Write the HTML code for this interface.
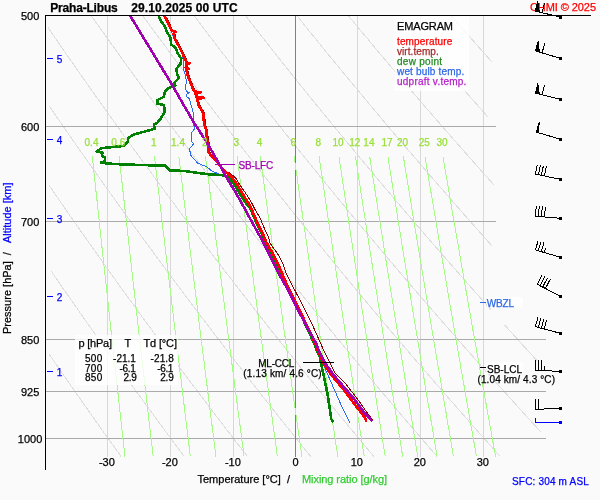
<!DOCTYPE html><html><head><meta charset="utf-8"><style>html,body{margin:0;padding:0;background:#fafafa}svg{display:block;will-change:transform}text{font-family:"Liberation Sans",sans-serif;paint-order:stroke;stroke-width:0.25px}</style></head><body>
<svg width="600" height="500" viewBox="0 0 600 500">
<rect width="600" height="500" fill="#fafafa"/>
<path d="M48.7 353.5L53.5 360.5M53.5 360.5L58.3 367.4M58.3 367.4L63.0 374.2M63.0 374.2L67.6 380.9M67.6 380.9L72.3 387.6M72.3 387.6L76.9 394.2M76.9 394.2L81.5 400.7M81.5 400.7L86.0 407.2M86.0 407.2L90.5 413.6M90.5 413.6L95.0 419.9M95.0 419.9L99.4 426.2M99.4 426.2L103.8 432.4M103.8 432.4L108.2 438.5M108.2 438.5L112.5 444.6M112.5 444.6L116.9 450.6M116.9 450.6L121.1 456.5M51.1 271.0L56.6 279.0M56.6 279.0L62.0 286.9M62.0 286.9L67.4 294.6M67.4 294.6L72.8 302.3M72.8 302.3L78.1 309.9M78.1 309.9L83.3 317.4M83.3 317.4L88.5 324.8M88.5 324.8L93.7 332.1M93.7 332.1L98.8 339.3M98.8 339.3L103.9 346.5M103.9 346.5L108.9 353.5M108.9 353.5L113.9 360.5M113.9 360.5L118.9 367.4M118.9 367.4L123.8 374.2M123.8 374.2L128.6 380.9M128.6 380.9L133.5 387.6M133.5 387.6L138.3 394.2M138.3 394.2L143.0 400.7M143.0 400.7L147.8 407.2M147.8 407.2L152.5 413.6M152.5 413.6L157.1 419.9M157.1 419.9L161.7 426.2M161.7 426.2L166.3 432.4M166.3 432.4L170.9 438.5M170.9 438.5L175.4 444.6M175.4 444.6L179.9 450.6M179.9 450.6L184.3 456.5M48.8 184.9L55.1 194.1M55.1 194.1L61.3 203.1M61.3 203.1L67.5 212.1M67.5 212.1L73.6 220.8M73.6 220.8L79.7 229.5M79.7 229.5L85.7 238.0M85.7 238.0L91.6 246.4M91.6 246.4L97.5 254.7M97.5 254.7L103.3 262.9M103.3 262.9L109.0 271.0M109.0 271.0L114.8 279.0M114.8 279.0L120.4 286.9M120.4 286.9L126.0 294.6M126.0 294.6L131.6 302.3M131.6 302.3L137.1 309.9M137.1 309.9L142.5 317.4M142.5 317.4L148.0 324.8M148.0 324.8L153.3 332.1M153.3 332.1L158.6 339.3M158.6 339.3L163.9 346.5M163.9 346.5L169.1 353.5M169.1 353.5L174.3 360.5M174.3 360.5L179.5 367.4M179.5 367.4L184.6 374.2M184.6 374.2L189.6 380.9M189.6 380.9L194.7 387.6M194.7 387.6L199.7 394.2M199.7 394.2L204.6 400.7M204.6 400.7L209.5 407.2M209.5 407.2L214.4 413.6M214.4 413.6L219.2 419.9M219.2 419.9L224.0 426.2M224.0 426.2L228.8 432.4M228.8 432.4L233.5 438.5M233.5 438.5L238.2 444.6M238.2 444.6L242.9 450.6M242.9 450.6L247.5 456.5M49.3 106.1L56.4 116.5M56.4 116.5L63.5 126.8M63.5 126.8L70.5 136.9M70.5 136.9L77.5 146.8M77.5 146.8L84.3 156.5M84.3 156.5L91.1 166.1M91.1 166.1L97.8 175.6M97.8 175.6L104.4 184.9M104.4 184.9L111.0 194.1M111.0 194.1L117.4 203.1M117.4 203.1L123.8 212.1M123.8 212.1L130.2 220.8M130.2 220.8L136.5 229.5M136.5 229.5L142.7 238.0M142.7 238.0L148.9 246.4M148.9 246.4L155.0 254.7M155.0 254.7L161.0 262.9M161.0 262.9L167.0 271.0M167.0 271.0L172.9 279.0M172.9 279.0L178.8 286.9M178.8 286.9L184.6 294.6M184.6 294.6L190.4 302.3M190.4 302.3L196.1 309.9M196.1 309.9L201.8 317.4M201.8 317.4L207.4 324.8M207.4 324.8L212.9 332.1M212.9 332.1L218.5 339.3M218.5 339.3L223.9 346.5M223.9 346.5L229.4 353.5M229.4 353.5L234.7 360.5M234.7 360.5L240.1 367.4M240.1 367.4L245.4 374.2M245.4 374.2L250.6 380.9M250.6 380.9L255.9 387.6M255.9 387.6L261.0 394.2M261.0 394.2L266.2 400.7M266.2 400.7L271.3 407.2M271.3 407.2L276.3 413.6M276.3 413.6L281.4 419.9M281.4 419.9L286.3 426.2M286.3 426.2L291.3 432.4M291.3 432.4L296.2 438.5M296.2 438.5L301.1 444.6M301.1 444.6L305.9 450.6M305.9 450.6L310.7 456.5M48.0 27.6L56.2 39.4M56.2 39.4L64.2 51.1M64.2 51.1L72.2 62.5M72.2 62.5L80.0 73.7M80.0 73.7L87.7 84.7M87.7 84.7L95.4 95.5M95.4 95.5L102.9 106.1M102.9 106.1L110.3 116.5M110.3 116.5L117.7 126.8M117.7 126.8L124.9 136.9M124.9 136.9L132.1 146.8M132.1 146.8L139.2 156.5M139.2 156.5L146.2 166.1M146.2 166.1L153.2 175.6M153.2 175.6L160.0 184.9M160.0 184.9L166.8 194.1M166.8 194.1L173.6 203.1M173.6 203.1L180.2 212.1M180.2 212.1L186.8 220.8M186.8 220.8L193.3 229.5M193.3 229.5L199.7 238.0M199.7 238.0L206.1 246.4M206.1 246.4L212.5 254.7M212.5 254.7L218.7 262.9M218.7 262.9L224.9 271.0M224.9 271.0L231.1 279.0M231.1 279.0L237.2 286.9M237.2 286.9L243.2 294.6M243.2 294.6L249.2 302.3M249.2 302.3L255.1 309.9M255.1 309.9L261.0 317.4M261.0 317.4L266.8 324.8M266.8 324.8L272.6 332.1M272.6 332.1L278.3 339.3M278.3 339.3L284.0 346.5M284.0 346.5L289.6 353.5M289.6 353.5L295.2 360.5M295.2 360.5L300.7 367.4M300.7 367.4L306.2 374.2M306.2 374.2L311.6 380.9M311.6 380.9L317.1 387.6M317.1 387.6L322.4 394.2M322.4 394.2L327.7 400.7M327.7 400.7L333.0 407.2M333.0 407.2L338.3 413.6M338.3 413.6L343.5 419.9M343.5 419.9L348.6 426.2M348.6 426.2L353.8 432.4M353.8 432.4L358.9 438.5M358.9 438.5L363.9 444.6M363.9 444.6L368.9 450.6M368.9 450.6L373.9 456.5M91.2 15.5L99.7 27.6M99.7 27.6L108.2 39.4M108.2 39.4L116.5 51.1M116.5 51.1L124.7 62.5M124.7 62.5L132.8 73.7M132.8 73.7L140.8 84.7M140.8 84.7L148.7 95.5M148.7 95.5L156.5 106.1M156.5 106.1L164.2 116.5M164.2 116.5L171.8 126.8M171.8 126.8L179.3 136.9M179.3 136.9L186.8 146.8M186.8 146.8L194.1 156.5M194.1 156.5L201.4 166.1M201.4 166.1L208.6 175.6M208.6 175.6L215.7 184.9M215.7 184.9L222.7 194.1M222.7 194.1L229.7 203.1M229.7 203.1L236.6 212.1M236.6 212.1L243.4 220.8M243.4 220.8L250.1 229.5M250.1 229.5L256.8 238.0M256.8 238.0L263.4 246.4M263.4 246.4L270.0 254.7M270.0 254.7L276.4 262.9M276.4 262.9L282.9 271.0M282.9 271.0L289.2 279.0M289.2 279.0L295.5 286.9M295.5 286.9L301.8 294.6M301.8 294.6L308.0 302.3M308.0 302.3L314.1 309.9M314.1 309.9L320.2 317.4M320.2 317.4L326.2 324.8M326.2 324.8L332.2 332.1M332.2 332.1L338.1 339.3M338.1 339.3L344.0 346.5M344.0 346.5L349.8 353.5M349.8 353.5L355.6 360.5M355.6 360.5L361.3 367.4M361.3 367.4L367.0 374.2M367.0 374.2L372.6 380.9M372.6 380.9L378.2 387.6M378.2 387.6L383.8 394.2M383.8 394.2L389.3 400.7M389.3 400.7L394.8 407.2M394.8 407.2L400.2 413.6M400.2 413.6L405.6 419.9M405.6 419.9L410.9 426.2M410.9 426.2L416.3 432.4M416.3 432.4L421.5 438.5M421.5 438.5L426.8 444.6M426.8 444.6L432.0 450.6M432.0 450.6L437.1 456.5M142.6 15.5L151.4 27.6M151.4 27.6L160.2 39.4M160.2 39.4L168.8 51.1M168.8 51.1L177.3 62.5M177.3 62.5L185.6 73.7M185.6 73.7L193.9 84.7M193.9 84.7L202.1 95.5M202.1 95.5L210.1 106.1M210.1 106.1L218.1 116.5M218.1 116.5L226.0 126.8M226.0 126.8L233.8 136.9M233.8 136.9L241.4 146.8M241.4 146.8L249.0 156.5M249.0 156.5L256.6 166.1M256.6 166.1L264.0 175.6M264.0 175.6L271.3 184.9M271.3 184.9L278.6 194.1M278.6 194.1L285.8 203.1M285.8 203.1L292.9 212.1M292.9 212.1L300.0 220.8M300.0 220.8L306.9 229.5M306.9 229.5L313.8 238.0M313.8 238.0L320.7 246.4M320.7 246.4L327.4 254.7M327.4 254.7L334.2 262.9M334.2 262.9L340.8 271.0M340.8 271.0L347.4 279.0M347.4 279.0L353.9 286.9M353.9 286.9L360.3 294.6M360.3 294.6L366.7 302.3M366.7 302.3L373.1 309.9M373.1 309.9L379.4 317.4M379.4 317.4L385.6 324.8M385.6 324.8L391.8 332.1M391.8 332.1L397.9 339.3M397.9 339.3L404.0 346.5M404.0 346.5L410.0 353.5M410.0 353.5L416.0 360.5M416.0 360.5L421.9 367.4M421.9 367.4L427.8 374.2M427.8 374.2L433.6 380.9M433.6 380.9L439.4 387.6M439.4 387.6L445.2 394.2M445.2 394.2L450.9 400.7M450.9 400.7L456.5 407.2M456.5 407.2L462.2 413.6M462.2 413.6L467.7 419.9M467.7 419.9L473.3 426.2M473.3 426.2L478.7 432.4M478.7 432.4L484.2 438.5M484.2 438.5L489.6 444.6M489.6 444.6L495.0 450.6M495.0 450.6L500.3 456.5M194.0 15.5L203.1 27.6M203.1 27.6L212.1 39.4M212.1 39.4L221.0 51.1M221.0 51.1L229.8 62.5M229.8 62.5L238.4 73.7M238.4 73.7L247.0 84.7M247.0 84.7L255.4 95.5M255.4 95.5L263.8 106.1M263.8 106.1L272.0 116.5M272.0 116.5L280.1 126.8M280.1 126.8L288.2 136.9M288.2 136.9L296.1 146.8M296.1 146.8L304.0 156.5M304.0 156.5L311.7 166.1M311.7 166.1L319.4 175.6M319.4 175.6L327.0 184.9M327.0 184.9L334.5 194.1M334.5 194.1L341.9 203.1M341.9 203.1L349.3 212.1M349.3 212.1L356.6 220.8M356.6 220.8L363.8 229.5M363.8 229.5L370.9 238.0M370.9 238.0L378.0 246.4M378.0 246.4L384.9 254.7M384.9 254.7L391.9 262.9M391.9 262.9L398.7 271.0M398.7 271.0L405.5 279.0M405.5 279.0L412.3 286.9M412.3 286.9L418.9 294.6M418.9 294.6L425.5 302.3M425.5 302.3L432.1 309.9M432.1 309.9L438.6 317.4M438.6 317.4L445.0 324.8M445.0 324.8L451.4 332.1M451.4 332.1L457.7 339.3M457.7 339.3L464.0 346.5M464.0 346.5L470.2 353.5M470.2 353.5L476.4 360.5M476.4 360.5L482.5 367.4M482.5 367.4L488.6 374.2M488.6 374.2L494.6 380.9M494.6 380.9L500.6 387.6M500.6 387.6L506.6 394.2M506.6 394.2L512.4 400.7M512.4 400.7L518.3 407.2M518.3 407.2L524.1 413.6M524.1 413.6L529.8 419.9M529.8 419.9L535.6 426.2M535.6 426.2L541.2 432.4M245.4 15.5L254.8 27.6M254.8 27.6L264.1 39.4M264.1 39.4L273.3 51.1M273.3 51.1L282.3 62.5M282.3 62.5L291.3 73.7M291.3 73.7L300.1 84.7M300.1 84.7L308.8 95.5M308.8 95.5L317.4 106.1M317.4 106.1L325.9 116.5M325.9 116.5L334.3 126.8M334.3 126.8L342.6 136.9M342.6 136.9L350.8 146.8M350.8 146.8L358.9 156.5M358.9 156.5L366.9 166.1M366.9 166.1L374.8 175.6M374.8 175.6L382.6 184.9M382.6 184.9L390.4 194.1M390.4 194.1L398.0 203.1M398.0 203.1L405.6 212.1M405.6 212.1L413.1 220.8M413.1 220.8L420.6 229.5M420.6 229.5L427.9 238.0M427.9 238.0L435.2 246.4M435.2 246.4L442.4 254.7M442.4 254.7L449.6 262.9M449.6 262.9L456.7 271.0M456.7 271.0L463.7 279.0M463.7 279.0L470.6 286.9M470.6 286.9L477.5 294.6M477.5 294.6L484.3 302.3M484.3 302.3L491.1 309.9M504.4 324.8L511.0 332.1M511.0 332.1L517.6 339.3M517.6 339.3L524.0 346.5M524.0 346.5L530.5 353.5M530.5 353.5L536.8 360.5M296.8 15.5L306.5 27.6M306.5 27.6L316.1 39.4M316.1 39.4L325.5 51.1M325.5 51.1L334.9 62.5M334.9 62.5L344.1 73.7M344.1 73.7L353.2 84.7M353.2 84.7L362.2 95.5M362.2 95.5L371.0 106.1M371.0 106.1L379.8 116.5M379.8 116.5L388.4 126.8M388.4 126.8L397.0 136.9M397.0 136.9L405.4 146.8M405.4 146.8L413.8 156.5M413.8 156.5L422.0 166.1M422.0 166.1L430.2 175.6M430.2 175.6L438.3 184.9M438.3 184.9L446.3 194.1M446.3 194.1L454.2 203.1M454.2 203.1L462.0 212.1M462.0 212.1L469.7 220.8M469.7 220.8L477.4 229.5M477.4 229.5L485.0 238.0M485.0 238.0L492.5 246.4M348.2 15.5L358.2 27.6M358.2 27.6L368.1 39.4M368.1 39.4L377.8 51.1M377.8 51.1L387.4 62.5M387.4 62.5L396.9 73.7M396.9 73.7L406.3 84.7M406.3 84.7L415.5 95.5M415.5 95.5L424.6 106.1M424.6 106.1L433.7 116.5M433.7 116.5L442.6 126.8M442.6 126.8L451.4 136.9M451.4 136.9L460.1 146.8M460.1 146.8L468.7 156.5M468.7 156.5L477.2 166.1M477.2 166.1L485.6 175.6M485.6 175.6L493.9 184.9M399.6 15.5L409.9 27.6M409.9 27.6L420.0 39.4M420.0 39.4L430.1 51.1M430.1 51.1L440.0 62.5M440.0 62.5L449.7 73.7M449.7 73.7L459.4 84.7M459.4 84.7L468.9 95.5M468.9 95.5L478.3 106.1M478.3 106.1L487.6 116.5M451.0 15.5L461.6 27.6M461.6 27.6L472.0 39.4M472.0 39.4L482.3 51.1M482.3 51.1L492.5 62.5" stroke="#dedede" stroke-width="1" fill="none" shape-rendering="crispEdges"/>
<path d="M107.5 16V457M170.5 16V457M233.5 16V457M357.5 16V457M420.5 16V457M483.5 16V457" stroke="#d8d8d8" stroke-width="1" fill="none" shape-rendering="crispEdges"/>
<path d="M46 126.5H496M46 221.5H496M46 339.5H546M46 391.5H546M46 438.5H546" stroke="#aaaaaa" stroke-width="1" fill="none" shape-rendering="crispEdges"/>
<path d="M295.5 16V457" stroke="#808080" stroke-width="1" fill="none" shape-rendering="crispEdges"/>
<path d="M92.3 156.5L93.3 166.1L94.3 175.6L95.3 184.9L96.3 194.1L97.3 203.1L98.2 212.1L99.2 220.8L100.1 229.5L101.0 238.0L101.9 246.4L102.8 254.7L103.7 262.9L104.6 271.0L105.5 279.0L106.3 286.9L107.2 294.6L108.0 302.3L108.8 309.9L109.6 317.4L110.4 324.8L111.2 332.1L112.0 339.3L112.8 346.5L113.6 353.5L114.4 360.5L115.1 367.4L115.9 374.2L116.6 380.9L117.3 387.6L118.1 394.2L118.8 400.7L119.5 407.2L120.2 413.6L120.9 419.9L121.6 426.2L122.3 432.4L123.0 438.5L123.7 444.6L124.3 450.6L125.0 456.5M119.1 156.5L120.2 166.1L121.2 175.6L122.3 184.9L123.3 194.1L124.3 203.1L125.3 212.1L126.3 220.8L127.3 229.5L128.2 238.0L129.2 246.4L130.1 254.7L131.0 262.9L131.9 271.0L132.8 279.0L133.7 286.9L134.6 294.6L135.5 302.3L136.3 309.9L137.2 317.4L138.0 324.8L138.8 332.1L139.7 339.3L140.5 346.5L141.3 353.5L142.1 360.5L142.9 367.4L143.7 374.2L144.4 380.9L145.2 387.6L146.0 394.2L146.7 400.7L147.5 407.2L148.2 413.6L148.9 419.9L149.6 426.2L150.4 432.4L151.1 438.5L151.8 444.6L152.5 450.6L153.2 456.5M154.5 156.5L155.6 166.1L156.7 175.6L157.8 184.9L158.9 194.1L159.9 203.1L161.0 212.1L162.0 220.8L163.0 229.5L164.1 238.0L165.1 246.4L166.0 254.7L167.0 262.9L168.0 271.0L168.9 279.0L169.9 286.9L170.8 294.6L171.7 302.3L172.6 309.9L173.5 317.4L174.4 324.8L175.3 332.1L176.1 339.3L177.0 346.5L177.8 353.5L178.7 360.5L179.5 367.4L180.3 374.2L181.2 380.9L182.0 387.6L182.8 394.2L183.6 400.7L184.3 407.2L185.1 413.6L185.9 419.9L186.7 426.2L187.4 432.4L188.2 438.5L188.9 444.6L189.6 450.6L190.4 456.5M178.8 156.5L180.0 166.1L181.1 175.6L182.2 184.9L183.3 194.1L184.4 203.1L185.5 212.1L186.6 220.8L187.7 229.5L188.7 238.0L189.7 246.4L190.8 254.7L191.8 262.9L192.8 271.0L193.7 279.0L194.7 286.9L195.7 294.6L196.6 302.3L197.6 309.9L198.5 317.4L199.4 324.8L200.3 332.1L201.2 339.3L202.1 346.5L203.0 353.5L203.9 360.5L204.7 367.4L205.6 374.2L206.4 380.9L207.3 387.6L208.1 394.2L208.9 400.7L209.7 407.2L210.5 413.6L211.3 419.9L212.1 426.2L212.9 432.4L213.7 438.5L214.4 444.6L215.2 450.6L216.0 456.5M205.5 156.5L206.7 166.1L207.9 175.6L209.1 184.9L210.2 194.1L211.4 203.1L212.5 212.1L213.6 220.8L214.7 229.5L215.8 238.0L216.9 246.4L217.9 254.7L219.0 262.9L220.0 271.0L221.0 279.0L222.0 286.9L223.0 294.6L224.0 302.3L225.0 309.9L225.9 317.4L226.9 324.8L227.8 332.1L228.8 339.3L229.7 346.5L230.6 353.5L231.5 360.5L232.4 367.4L233.3 374.2L234.2 380.9L235.0 387.6L235.9 394.2L236.8 400.7L237.6 407.2L238.4 413.6L239.3 419.9L240.1 426.2L240.9 432.4L241.7 438.5L242.5 444.6L243.3 450.6L244.1 456.5M237.1 156.5L238.3 166.1L239.6 175.6L240.8 184.9L242.0 194.1L243.2 203.1L244.4 212.1L245.5 220.8L246.7 229.5L247.8 238.0L248.9 246.4L250.0 254.7L251.1 262.9L252.2 271.0L253.3 279.0L254.3 286.9L255.4 294.6L256.4 302.3L257.4 309.9L258.4 317.4L259.4 324.8L260.4 332.1L261.4 339.3L262.3 346.5L263.3 353.5L264.2 360.5L265.2 367.4L266.1 374.2L267.0 380.9L267.9 387.6L268.8 394.2L269.7 400.7L270.6 407.2L271.5 413.6L272.4 419.9L273.2 426.2L274.1 432.4L274.9 438.5L275.8 444.6L276.6 450.6L277.4 456.5M260.3 156.5L261.6 166.1L262.9 175.6L264.1 184.9L265.4 194.1L266.6 203.1L267.8 212.1L269.0 220.8L270.2 229.5L271.4 238.0L272.5 246.4L273.7 254.7L274.8 262.9L275.9 271.0L277.0 279.0L278.1 286.9L279.2 294.6L280.2 302.3L281.3 309.9L282.3 317.4L283.3 324.8L284.4 332.1L285.4 339.3L286.4 346.5L287.4 353.5L288.3 360.5L289.3 367.4L290.3 374.2L291.2 380.9L292.1 387.6L293.1 394.2L294.0 400.7L294.9 407.2L295.8 413.6L296.7 419.9L297.6 426.2L298.5 432.4L299.3 438.5L300.2 444.6L301.1 450.6L301.9 456.5M294.2 156.5L295.5 166.1L296.9 175.6L298.2 184.9L299.5 194.1L300.8 203.1L302.1 212.1L303.3 220.8L304.6 229.5L305.8 238.0L307.0 246.4L308.2 254.7L309.4 262.9L310.5 271.0L311.7 279.0L312.8 286.9L313.9 294.6L315.1 302.3L316.2 309.9L317.2 317.4L318.3 324.8L319.4 332.1L320.4 339.3L321.5 346.5L322.5 353.5L323.5 360.5L324.6 367.4L325.6 374.2L326.6 380.9L327.5 387.6L328.5 394.2L329.5 400.7L330.4 407.2L331.4 413.6L332.3 419.9L333.2 426.2L334.2 432.4L335.1 438.5L336.0 444.6L336.9 450.6L337.8 456.5M319.1 156.5L320.5 166.1L321.9 175.6L323.3 184.9L324.6 194.1L325.9 203.1L327.2 212.1L328.5 220.8L329.8 229.5L331.1 238.0L332.3 246.4L333.6 254.7L334.8 262.9L336.0 271.0L337.2 279.0L338.4 286.9L339.5 294.6L340.7 302.3L341.8 309.9L342.9 317.4L344.1 324.8L345.2 332.1L346.2 339.3L347.3 346.5L348.4 353.5L349.4 360.5L350.5 367.4L351.5 374.2L352.6 380.9L353.6 387.6L354.6 394.2L355.6 400.7L356.6 407.2L357.5 413.6L358.5 419.9L359.5 426.2L360.4 432.4L361.4 438.5L362.3 444.6L363.2 450.6L364.2 456.5M338.9 156.5L340.4 166.1L341.8 175.6L343.2 184.9L344.6 194.1L346.0 203.1L347.3 212.1L348.6 220.8L349.9 229.5L351.2 238.0L352.5 246.4L353.8 254.7L355.0 262.9L356.3 271.0L357.5 279.0L358.7 286.9L359.9 294.6L361.1 302.3L362.2 309.9L363.4 317.4L364.5 324.8L365.7 332.1L366.8 339.3L367.9 346.5L369.0 353.5L370.1 360.5L371.2 367.4L372.2 374.2L373.3 380.9L374.3 387.6L375.3 394.2L376.4 400.7L377.4 407.2L378.4 413.6L379.4 419.9L380.4 426.2L381.3 432.4L382.3 438.5L383.3 444.6L384.2 450.6L385.2 456.5M355.5 156.5L357.0 166.1L358.4 175.6L359.8 184.9L361.2 194.1L362.6 203.1L364.0 212.1L365.4 220.8L366.7 229.5L368.0 238.0L369.3 246.4L370.6 254.7L371.9 262.9L373.2 271.0L374.4 279.0L375.7 286.9L376.9 294.6L378.1 302.3L379.3 309.9L380.5 317.4L381.6 324.8L382.8 332.1L383.9 339.3L385.1 346.5L386.2 353.5L387.3 360.5L388.4 367.4L389.5 374.2L390.5 380.9L391.6 387.6L392.7 394.2L393.7 400.7L394.7 407.2L395.8 413.6L396.8 419.9L397.8 426.2L398.8 432.4L399.8 438.5L400.8 444.6L401.7 450.6L402.7 456.5M369.7 156.5L371.2 166.1L372.7 175.6L374.1 184.9L375.6 194.1L377.0 203.1L378.4 212.1L379.8 220.8L381.1 229.5L382.5 238.0L383.8 246.4L385.1 254.7L386.4 262.9L387.7 271.0L389.0 279.0L390.2 286.9L391.5 294.6L392.7 302.3L393.9 309.9L395.1 317.4L396.3 324.8L397.5 332.1L398.7 339.3L399.8 346.5L400.9 353.5L402.1 360.5L403.2 367.4L404.3 374.2L405.4 380.9L406.5 387.6L407.6 394.2L408.6 400.7L409.7 407.2L410.7 413.6L411.8 419.9L412.8 426.2L413.8 432.4L414.8 438.5L415.8 444.6L416.8 450.6L417.8 456.5M387.9 156.5L389.4 166.1L390.9 175.6L392.4 184.9L393.9 194.1L395.3 203.1L396.8 212.1L398.2 220.8L399.6 229.5L401.0 238.0L402.3 246.4L403.7 254.7L405.0 262.9L406.3 271.0L407.6 279.0L408.9 286.9L410.2 294.6L411.4 302.3L412.7 309.9L413.9 317.4L415.1 324.8L416.3 332.1L417.5 339.3L418.7 346.5L419.9 353.5L421.0 360.5L422.2 367.4L423.3 374.2L424.4 380.9L425.5 387.6L426.6 394.2L427.7 400.7L428.8 407.2L429.9 413.6L430.9 419.9L432.0 426.2L433.0 432.4L434.0 438.5L435.1 444.6L436.1 450.6L437.1 456.5M403.4 156.5L404.9 166.1L406.5 175.6L408.0 184.9L409.5 194.1L411.0 203.1L412.4 212.1L413.9 220.8L415.3 229.5L416.7 238.0L418.1 246.4L419.5 254.7L420.8 262.9L422.2 271.0L423.5 279.0L424.8 286.9L426.1 294.6L427.4 302.3L428.6 309.9L429.9 317.4L431.1 324.8L432.4 332.1L433.6 339.3L434.8 346.5L436.0 353.5L437.1 360.5L438.3 367.4L439.5 374.2L440.6 380.9L441.7 387.6L442.9 394.2L444.0 400.7L445.1 407.2L446.2 413.6L447.2 419.9L448.3 426.2L449.4 432.4L450.4 438.5L451.5 444.6L452.5 450.6L453.5 456.5M425.0 156.5L426.6 166.1L428.2 175.6L429.7 184.9L431.3 194.1L432.8 203.1L434.3 212.1L435.8 220.8L437.2 229.5L438.7 238.0L440.1 246.4L441.5 254.7L442.9 262.9L444.3 271.0L445.6 279.0L447.0 286.9L448.3 294.6L449.6 302.3L450.9 309.9L452.2 317.4L453.5 324.8L454.7 332.1L456.0 339.3L457.2 346.5L458.4 353.5L459.7 360.5L460.8 367.4L462.0 374.2L463.2 380.9L464.4 387.6L465.5 394.2L466.7 400.7L467.8 407.2L468.9 413.6L470.0 419.9L471.1 426.2L472.2 432.4L473.3 438.5L474.4 444.6L475.4 450.6L476.5 456.5M442.9 156.5L444.5 166.1L446.2 175.6L447.8 184.9L449.3 194.1L450.9 203.1L452.4 212.1L453.9 220.8L455.4 229.5L456.9 238.0L458.4 246.4L459.8 254.7L461.2 262.9L462.6 271.0L464.0 279.0L465.4 286.9L466.7 294.6L468.1 302.3L469.4 309.9L470.7 317.4L472.0 324.8L473.3 332.1L474.6 339.3L475.9 346.5L477.1 353.5L478.4 360.5L479.6 367.4L480.8 374.2L482.0 380.9L483.2 387.6L484.4 394.2L485.5 400.7L486.7 407.2L487.8 413.6L489.0 419.9L490.1 426.2L491.2 432.4L492.3 438.5L493.4 444.6L494.5 450.6L495.6 456.5" stroke="#a6fa86" stroke-width="1" fill="none" shape-rendering="crispEdges"/>
<g fill="none" stroke-linejoin="round" shape-rendering="crispEdges">
<path d="M163.5 16.0L165.7 20.0L168.1 25.0L170.9 30.0L173.2 36.0L175.7 42.0L178.9 48.0L181.9 54.0L183.5 60.4L183.9 65.5L183.0 68.8L184.7 72.2L185.5 77.2L186.6 80.6L185.4 88.4L186.9 91.8L189.4 92.6L186.9 94.3L186.9 96.8L189.4 98.5L191.0 105.0L193.6 113.6L193.6 123.7L194.5 128.7L191.0 133.8L192.0 142.0L193.6 143.9L189.4 149.0L191.0 155.6L197.8 163.2L206.9 166.9L211.9 171.1L220.3 174.5L225.4 175.6L229.0 177.0M322.0 362.0L323.6 365.1L328.7 376.9L335.4 392.0L342.1 407.1L349.7 422.6" stroke="#2a6cf0" stroke-width="1"/>
<path d="M158.7 15.9L160.3 20.0L164.5 26.0L167.0 31.8L170.4 37.7L171.3 44.5L175.5 47.8L178.0 53.7L181.3 58.7L180.5 63.8L176.3 68.8L177.1 73.9L178.8 78.1L173.8 83.1L175.5 85.6L167.9 88.2L164.5 92.4L164.0 96.8L157.2 100.2L157.2 103.5L164.0 105.2L164.8 112.0L160.6 118.7L157.2 122.9L153.9 124.5L154.7 128.7L145.5 131.3L133.7 134.6L127.8 138.0L127.8 141.7L123.6 145.9L106.8 147.6L100.9 148.4L96.7 151.8L102.6 152.6L101.8 156.0L105.1 157.6L105.1 161.0L100.9 162.7L106.8 163.5L121.9 164.4L147.1 165.2L165.6 165.5L167.3 167.7L169.8 170.3L185.8 171.1L196.8 172.8L210.3 174.5L223.7 175.3L228.7 177.0L233.8 183.7L238.8 192.1L244.7 201.3L247.2 204.7L250.0 208.0L252.7 214.0L255.2 220.0L258.0 226.0L261.0 232.0L263.6 238.0L266.3 244.0L269.8 250.0L273.0 256.0L276.0 262.0L278.8 268.0L281.4 274.0L284.0 280.0L286.5 286.0L289.3 292.0L292.3 298.0L295.3 304.0L298.4 310.0L301.4 316.0L304.2 322.0L307.1 328.0L309.9 334.0L312.6 340.0L315.2 346.0L317.4 352.0L320.2 358.0L321.1 363.4L323.6 375.2L326.1 387.0L327.8 395.4L329.5 407.1L331.2 418.9L333.4 422.3" stroke="#008000" stroke-width="2.6"/>
<path d="M165.3 15.5L167.3 19.0L169.2 22.6L171.7 28.5L173.8 31.0L174.8 33.5L175.9 38.6L180.1 46.1L184.3 54.5L186.8 60.4L187.7 63.0L187.8 65.0L187.1 67.5L187.8 70.0L188.5 73.9L190.7 80.0L194.1 88.4L195.8 91.5L196.8 94.0L197.4 96.5L198.3 99.0L200.0 105.2L204.7 113.6L205.3 123.7L207.5 130.4L208.3 138.8L209.9 147.0L209.9 151.8L211.6 155.1L218.3 161.8" stroke="#8b0000" stroke-width="1"/>
<path d="M164.0 15.5L166.0 19.0L167.9 22.6L170.4 28.5L172.5 31.0L175.5 31.8L173.5 33.5L174.6 38.6L178.8 46.1L183.0 54.5L185.5 60.4L186.4 63.0L189.5 63.4L186.5 65.0L185.8 67.5L189.0 68.8L186.5 70.0L187.2 73.9L189.4 80.0L192.8 88.4L194.5 91.5L200.5 92.3L195.5 94.0L196.1 96.5L204.0 97.8L197.0 99.0L198.7 105.2L203.4 113.6L204.0 123.7L206.2 130.4L207.0 138.8L208.6 147.0L208.6 151.8L210.3 155.1L217.0 161.8L223.7 170.3L230.4 175.3L235.5 182.0L239.7 188.7L244.7 197.1L248.9 203.9L252.3 210.6L256.9 221.8L263.6 235.2L266.1 241.9L272.0 252.0L278.7 265.5L283.8 277.2L288.8 289.0L292.7 296.8L301.2 313.6L309.3 330.4L315.4 343.9L318.3 351.7L323.6 363.4L330.3 373.5L337.1 381.9L345.5 392.0L355.5 405.5L362.3 413.9L365.6 418.9L366.1 422.3" stroke="#ff0000" stroke-width="2.6"/>
<path d="M228.7 172.0L235.5 177.8L239.7 184.5L247.2 195.5L252.3 203.9L255.2 210.0L260.3 218.4L263.6 226.8L267.8 235.2L270.3 243.6L278.7 255.4L282.9 263.8L286.3 273.9L291.3 283.9L295.5 291.5L303.6 306.9L310.3 320.3L317.1 335.5L323.8 350.6L329.7 362.4L335.4 373.5L345.5 383.6L357.2 398.7L365.6 410.5L372.4 419.7" stroke="#8b0000" stroke-width="1"/>
<path d="M130.0 15.5L169.2 80.0L193.6 122.0L205.2 140.0L209.4 146.7L218.8 163.2L227.1 178.7L235.5 192.1L243.9 207.2L251.8 221.8L260.3 236.9L268.7 253.7L277.1 270.5L285.5 285.6L289.7 293.2L291.4 296.8L299.9 313.6L308.9 330.4L316.5 343.9L318.6 350.0L325.3 363.4L333.7 375.2L343.8 387.0L353.9 398.7L363.9 412.2L372.4 421.4" stroke="#a000b0" stroke-width="2.6"/>
</g>
<path d="M45.5 15V470" stroke="#000" stroke-width="1" shape-rendering="crispEdges"/>
<path d="M45 15.5H591" stroke="#000" stroke-width="1" shape-rendering="crispEdges"/>
<rect x="394.5" y="16" width="74.5" height="75" fill="#fff" fill-opacity="0.8"/>
<rect x="75" y="335" width="103" height="50" fill="#fff" fill-opacity="0.8"/>
<rect x="487" y="297" width="36" height="11" fill="#fff" fill-opacity="0.8"/>
<rect x="486" y="362" width="37" height="12" fill="#fff" fill-opacity="0.8"/>
<text x="91.5" y="146.3" font-size="10" fill="#98e038" text-anchor="middle" stroke="#98e038">0.4</text>
<text x="118.3" y="146.3" font-size="10" fill="#98e038" text-anchor="middle" stroke="#98e038">0.6</text>
<text x="153.7" y="146.3" font-size="10" fill="#98e038" text-anchor="middle" stroke="#98e038">1</text>
<text x="178.0" y="146.3" font-size="10" fill="#98e038" text-anchor="middle" stroke="#98e038">1.4</text>
<text x="204.7" y="146.3" font-size="10" fill="#98e038" text-anchor="middle" stroke="#98e038">2</text>
<text x="236.3" y="146.3" font-size="10" fill="#98e038" text-anchor="middle" stroke="#98e038">3</text>
<text x="259.5" y="146.3" font-size="10" fill="#98e038" text-anchor="middle" stroke="#98e038">4</text>
<text x="293.4" y="146.3" font-size="10" fill="#98e038" text-anchor="middle" stroke="#98e038">6</text>
<text x="318.3" y="146.3" font-size="10" fill="#98e038" text-anchor="middle" stroke="#98e038">8</text>
<text x="338.1" y="146.3" font-size="10" fill="#98e038" text-anchor="middle" stroke="#98e038">10</text>
<text x="354.7" y="146.3" font-size="10" fill="#98e038" text-anchor="middle" stroke="#98e038">12</text>
<text x="368.9" y="146.3" font-size="10" fill="#98e038" text-anchor="middle" stroke="#98e038">14</text>
<text x="387.1" y="146.3" font-size="10" fill="#98e038" text-anchor="middle" stroke="#98e038">17</text>
<text x="402.6" y="146.3" font-size="10" fill="#98e038" text-anchor="middle" stroke="#98e038">20</text>
<text x="424.2" y="146.3" font-size="10" fill="#98e038" text-anchor="middle" stroke="#98e038">25</text>
<text x="442.1" y="146.3" font-size="10" fill="#98e038" text-anchor="middle" stroke="#98e038">30</text>
<text x="50.3" y="11.5" font-size="12" fill="#000" font-weight="bold" textLength="67.4" lengthAdjust="spacing" xml:space="preserve" stroke="#000">Praha-Libus</text>
<text x="131.3" y="11.5" font-size="12" fill="#000" font-weight="bold" textLength="106.4" lengthAdjust="spacing" xml:space="preserve" stroke="#000">29.10.2025 00 UTC</text>
<text x="530.0" y="11.0" font-size="11" fill="#ff0000" textLength="66.0" lengthAdjust="spacing" xml:space="preserve" stroke="#ff0000">CHMI © 2025</text>
<text x="30.1" y="19.8" font-size="11" fill="#000" text-anchor="middle" stroke="#000">500</text>
<text x="30.1" y="130.8" font-size="11" fill="#000" text-anchor="middle" stroke="#000">600</text>
<text x="30.1" y="225.8" font-size="11" fill="#000" text-anchor="middle" stroke="#000">700</text>
<text x="30.1" y="343.8" font-size="11" fill="#000" text-anchor="middle" stroke="#000">850</text>
<text x="30.1" y="395.8" font-size="11" fill="#000" text-anchor="middle" stroke="#000">925</text>
<text x="30.1" y="442.8" font-size="11" fill="#000" text-anchor="middle" stroke="#000">1000</text>
<text x="106.9" y="465.6" font-size="11" fill="#000" text-anchor="middle" stroke="#000">-30</text>
<text x="169.9" y="465.6" font-size="11" fill="#000" text-anchor="middle" stroke="#000">-20</text>
<text x="232.9" y="465.6" font-size="11" fill="#000" text-anchor="middle" stroke="#000">-10</text>
<text x="295.5" y="465.6" font-size="11" fill="#000" text-anchor="middle" stroke="#000">0</text>
<text x="356.8" y="465.6" font-size="11" fill="#000" text-anchor="middle" stroke="#000">10</text>
<text x="419.8" y="465.6" font-size="11" fill="#000" text-anchor="middle" stroke="#000">20</text>
<text x="482.8" y="465.6" font-size="11" fill="#000" text-anchor="middle" stroke="#000">30</text>
<text x="197.5" y="482.5" font-size="11" fill="#000" textLength="92.5" lengthAdjust="spacing" xml:space="preserve" stroke="#000">Temperature [°C]  /</text>
<text x="302.0" y="482.5" font-size="11" fill="#33cc33" textLength="85.0" lengthAdjust="spacing" xml:space="preserve" stroke="#33cc33">Mixing ratio [g/kg]</text>
<text x="512.0" y="484.5" font-size="10" fill="#0000ff" textLength="76.8" lengthAdjust="spacing" xml:space="preserve" stroke="#0000ff">SFC: 304 m ASL</text>
<text transform="translate(11.3,334) rotate(-90)" font-size="11" fill="#000" xml:space="preserve" stroke="#000">Pressure [hPa]  /</text>
<text transform="translate(11.3,243) rotate(-90)" font-size="11" fill="#0000ff" stroke="#0000ff">Altitude [km]</text>
<path d="M47 58.5H53" stroke="#0000ff" stroke-width="1" shape-rendering="crispEdges"/>
<text x="56.8" y="63.0" font-size="10" fill="#0000ff" stroke="#0000ff">5</text>
<path d="M47 139.5H53" stroke="#0000ff" stroke-width="1" shape-rendering="crispEdges"/>
<text x="56.8" y="144.0" font-size="10" fill="#0000ff" stroke="#0000ff">4</text>
<path d="M47 218.5H53" stroke="#0000ff" stroke-width="1" shape-rendering="crispEdges"/>
<text x="56.8" y="223.0" font-size="10" fill="#0000ff" stroke="#0000ff">3</text>
<path d="M47 296.5H53" stroke="#0000ff" stroke-width="1" shape-rendering="crispEdges"/>
<text x="56.8" y="301.0" font-size="10" fill="#0000ff" stroke="#0000ff">2</text>
<path d="M47 371.5H53" stroke="#0000ff" stroke-width="1" shape-rendering="crispEdges"/>
<text x="56.8" y="376.0" font-size="10" fill="#0000ff" stroke="#0000ff">1</text>
<text x="397.0" y="29.5" font-size="11" fill="#000" textLength="56.0" lengthAdjust="spacing" xml:space="preserve" stroke="#000">EMAGRAM</text>
<text x="397.0" y="45.0" font-size="10" fill="#ff0000" textLength="55.3" lengthAdjust="spacing" xml:space="preserve" stroke="#ff0000">temperature</text>
<text x="397.0" y="55.0" font-size="10" fill="#a52a2a" textLength="41.7" lengthAdjust="spacing" xml:space="preserve" stroke="#a52a2a">virt.temp.</text>
<text x="397.0" y="65.0" font-size="10" fill="#228b22" textLength="45.0" lengthAdjust="spacing" xml:space="preserve" stroke="#228b22">dew point</text>
<text x="397.0" y="75.0" font-size="10" fill="#2e68e6" textLength="67.2" lengthAdjust="spacing" xml:space="preserve" stroke="#2e68e6">wet bulb temp.</text>
<text x="397.0" y="85.0" font-size="10" fill="#b41ec8" textLength="69.4" lengthAdjust="spacing" xml:space="preserve" stroke="#b41ec8">udpraft v.temp.</text>
<text x="78.4" y="346.7" font-size="11" fill="#000" textLength="33.6" lengthAdjust="spacing" xml:space="preserve" stroke="#000">p [hPa]</text>
<text x="124.4" y="346.7" font-size="11" fill="#000" xml:space="preserve" stroke="#000">T</text>
<text x="143.4" y="346.7" font-size="11" fill="#000" textLength="33.6" lengthAdjust="spacing" xml:space="preserve" stroke="#000">Td [°C]</text>
<text x="84.9" y="361.8" font-size="10" fill="#000" textLength="17.4" lengthAdjust="spacing" xml:space="preserve" stroke="#000">500</text>
<text x="113.1" y="361.8" font-size="10" fill="#000" textLength="22.7" lengthAdjust="spacing" xml:space="preserve" stroke="#000">-21.1</text>
<text x="150.6" y="361.8" font-size="10" fill="#000" textLength="23.2" lengthAdjust="spacing" xml:space="preserve" stroke="#000">-21.8</text>
<text x="84.9" y="371.6" font-size="10" fill="#000" textLength="17.4" lengthAdjust="spacing" xml:space="preserve" stroke="#000">700</text>
<text x="119.6" y="371.6" font-size="10" fill="#000" textLength="16.2" lengthAdjust="spacing" xml:space="preserve" stroke="#000">-6.1</text>
<text x="157.2" y="371.6" font-size="10" fill="#000" textLength="16.2" lengthAdjust="spacing" xml:space="preserve" stroke="#000">-6.1</text>
<text x="84.9" y="381.4" font-size="10" fill="#000" textLength="17.4" lengthAdjust="spacing" xml:space="preserve" stroke="#000">850</text>
<text x="123.5" y="381.4" font-size="10" fill="#000" textLength="13.4" lengthAdjust="spacing" xml:space="preserve" stroke="#000">2.9</text>
<text x="160.3" y="381.4" font-size="10" fill="#000" textLength="13.4" lengthAdjust="spacing" xml:space="preserve" stroke="#000">2.9</text>
<path d="M214.5 164.5H235" stroke="#a000b0" stroke-width="1" shape-rendering="crispEdges"/>
<text x="238.5" y="168.5" font-size="10" fill="#a000b0" textLength="34.8" lengthAdjust="spacing" xml:space="preserve" stroke="#a000b0">SB-LFC</text>
<path d="M303 362.5H334" stroke="#000" stroke-width="1" shape-rendering="crispEdges"/>
<text x="258.3" y="366.7" font-size="10" fill="#000" textLength="35.9" lengthAdjust="spacing" xml:space="preserve" stroke="#000">ML-CCL</text>
<text x="243.3" y="376.7" font-size="10" fill="#000" textLength="78.4" lengthAdjust="spacing" xml:space="preserve" stroke="#000">(1.13 km/ 4.6 °C)</text>
<path d="M480 302.5H486" stroke="#2e68e6" stroke-width="1" shape-rendering="crispEdges"/>
<text x="486.8" y="306.5" font-size="10" fill="#2e68e6" textLength="27.2" lengthAdjust="spacing" xml:space="preserve" stroke="#2e68e6">WBZL</text>
<path d="M480 367.5H486" stroke="#000" stroke-width="1" shape-rendering="crispEdges"/>
<text x="487.0" y="372.5" font-size="10" fill="#000" textLength="35.0" lengthAdjust="spacing" xml:space="preserve" stroke="#000">SB-LCL</text>
<text x="477.5" y="382.5" font-size="10" fill="#000" textLength="77.5" lengthAdjust="spacing" xml:space="preserve" stroke="#000">(1.04 km/ 4.3 °C)</text>
<g stroke="#000" fill="#000" stroke-width="1" shape-rendering="crispEdges">
<path d="M560.5 17.1L535.4 11.1" fill="none"/>
<rect x="559.0" y="15.6" width="3" height="3" stroke="none"/>
<path d="M535.4 11.1L537.7 1.3L539.4 12.1Z"/>
<path d="M542.1 12.7L544.5 2.7" fill="none"/>
</g>
<g stroke="#000" fill="#000" stroke-width="1" shape-rendering="crispEdges">
<path d="M560.5 58.4L535.4 50.9" fill="none"/>
<rect x="559.0" y="56.9" width="3" height="3" stroke="none"/>
<path d="M535.4 50.9L538.3 41.2L539.3 52.1Z"/>
<path d="M542.0 52.9L545.0 43.0" fill="none"/>
</g>
<g stroke="#000" fill="#000" stroke-width="1" shape-rendering="crispEdges">
<path d="M560.5 99.3L535.4 93.2" fill="none"/>
<rect x="559.0" y="97.8" width="3" height="3" stroke="none"/>
<path d="M535.4 93.2L537.8 83.4L539.4 94.2Z"/>
<path d="M542.1 94.8L544.5 84.8" fill="none"/>
</g>
<g stroke="#000" fill="#000" stroke-width="1" shape-rendering="crispEdges">
<path d="M560.5 139.3L536.3 132.1" fill="none"/>
<rect x="559.0" y="137.8" width="3" height="3" stroke="none"/>
<path d="M536.3 132.1L539.3 122.1L538.2 132.7Z"/>
</g>
<g stroke="#000" fill="#000" stroke-width="1" shape-rendering="crispEdges">
<path d="M560.5 179.3L535.4 174.1" fill="none"/>
<rect x="559.0" y="177.8" width="3" height="3" stroke="none"/>
<path d="M535.4 174.1L537.4 164.5" fill="none"/>
<path d="M538.4 174.7L540.4 165.1" fill="none"/>
<path d="M541.4 175.3L543.4 165.7" fill="none"/>
<path d="M544.4 176.0L546.3 166.4" fill="none"/>
</g>
<g stroke="#000" fill="#000" stroke-width="1" shape-rendering="crispEdges">
<path d="M560.5 218.3L535.4 216.2" fill="none"/>
<rect x="559.0" y="216.8" width="3" height="3" stroke="none"/>
<path d="M535.4 216.2L536.3 205.8" fill="none"/>
<path d="M538.4 216.5L539.3 206.1" fill="none"/>
<path d="M541.5 216.7L542.3 206.3" fill="none"/>
<path d="M544.5 217.0L545.4 206.6" fill="none"/>
</g>
<g stroke="#000" fill="#000" stroke-width="1" shape-rendering="crispEdges">
<path d="M560.5 257.3L535.4 249.9" fill="none"/>
<rect x="559.0" y="255.8" width="3" height="3" stroke="none"/>
<path d="M535.4 249.9L538.2 240.5" fill="none"/>
<path d="M538.3 250.8L541.1 241.4" fill="none"/>
<path d="M541.3 251.6L544.0 242.2" fill="none"/>
<path d="M544.2 252.5L545.5 248.1" fill="none"/>
</g>
<g stroke="#000" fill="#000" stroke-width="1" shape-rendering="crispEdges">
<path d="M560.5 296.3L537.3 284.3" fill="none"/>
<rect x="559.0" y="294.8" width="3" height="3" stroke="none"/>
<path d="M537.3 284.3L542.1 275.0" fill="none"/>
<path d="M540.0 285.7L544.8 276.4" fill="none"/>
<path d="M542.7 287.1L547.5 277.8" fill="none"/>
<path d="M545.4 288.5L550.3 279.2" fill="none"/>
</g>
<g stroke="#000" fill="#000" stroke-width="1" shape-rendering="crispEdges">
<path d="M560.5 333.3L535.4 326.7" fill="none"/>
<rect x="559.0" y="331.8" width="3" height="3" stroke="none"/>
<path d="M535.4 326.7L537.9 317.3" fill="none"/>
<path d="M538.3 327.5L540.8 318.1" fill="none"/>
<path d="M541.3 328.3L543.8 318.9" fill="none"/>
<path d="M544.2 329.0L546.7 319.6" fill="none"/>
</g>
<g stroke="#000" fill="#000" stroke-width="1" shape-rendering="crispEdges">
<path d="M560.5 371.4L535.4 370.2" fill="none"/>
<rect x="559.0" y="369.9" width="3" height="3" stroke="none"/>
<path d="M535.4 370.2L535.9 360.2" fill="none"/>
<path d="M538.4 370.3L538.9 360.4" fill="none"/>
<path d="M541.5 370.5L542.0 360.5" fill="none"/>
<path d="M544.5 370.6L544.8 366.0" fill="none"/>
</g>
<g stroke="#000" fill="#000" stroke-width="1" shape-rendering="crispEdges">
<path d="M560.5 408.4L535.4 409.3" fill="none"/>
<rect x="559.0" y="406.9" width="3" height="3" stroke="none"/>
<path d="M535.4 409.3L535.0 399.0" fill="none"/>
<path d="M538.4 409.2L538.1 398.9" fill="none"/>
</g>
<g stroke="#0000ff" fill="#0000ff" stroke-width="1" shape-rendering="crispEdges">
<path d="M560.5 422.4L535.4 422.3" fill="none"/>
<rect x="559.0" y="420.9" width="3" height="3" stroke="none"/>
<path d="M535.4 422.3L535.4 417.7" fill="none"/>
</g>
</svg></body></html>
